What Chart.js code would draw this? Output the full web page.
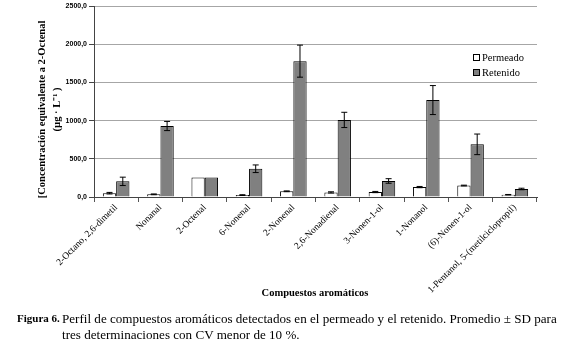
<!DOCTYPE html>
<html><head><meta charset="utf-8">
<script src="https://cdn.jsdelivr.net/npm/chart.js@4.4.1/dist/chart.umd.min.js"></script>
<style>
html,body{margin:0;padding:0;background:#fff;}
#wrap{position:relative;width:562px;height:345px;}
#c{position:absolute;left:0;top:0;}
#xt{position:absolute;left:0;width:562px;top:287px;text-align:center;padding-left:68px;box-sizing:border-box;font:bold 10.5px "Liberation Serif";}
#legend{position:absolute;left:473px;top:50px;font:10.5px "Liberation Serif";line-height:15px;}
#legend span.b{display:inline-block;width:5px;height:5px;border:1px solid #000;margin-right:2px;vertical-align:0px;}
#cap{position:absolute;left:17px;top:311px;width:545px;font:13.1px "Liberation Serif";line-height:15.5px;display:flex;white-space:nowrap;}
#cap b{width:45px;flex:none;font-size:11px;}
</style></head>
<body><div id="wrap">
<canvas id="c" width="562" height="300"></canvas>
<div id="xt">Compuestos aromáticos</div>
<div id="legend"></div>
<div id="cap"><b>Figura 6.</b><div>Perfil de compuestos aromáticos detectados en el permeado y el retenido. Promedio ± SD para<br>tres determinaciones con CV menor de 10 %.</div></div>
</div>
<script>
const categories = ["2-Octano, 2,6-dimetil","Nonanal","2-Octenal","6-Nonenal","2-Nonenal","2,6-Nonadienal","3-Nonen-1-ol","1-Nonanol","(6)-Nonen-1-ol","1-Pentanol, 5-(metilciclopropil)"];
const permeado = [50, 35, 255, 25, 75, 60, 65, 130, 150, 30];
const permeadoSD = [10, 5, 0, 5, 5, 8, 8, 8, 5, 3];
const retenido = [205, 930, 255, 370, 1780, 1010, 210, 1270, 690, 105];
const retenidoSD = [55, 60, 0, 50, 210, 100, 30, 190, 135, 10];
const yTicks = [0, 500, 1000, 1500, 2000, 2500];
const seriesNames = ["Permeado", "Retenido"];

const errorBars = {
  id: 'errorBars',
  afterDatasetsDraw(chart) {
    const ctx = chart.ctx, ys = chart.scales.y;
    chart.data.datasets.forEach((ds, i) => {
      const meta = chart.getDatasetMeta(i);
      meta.data.forEach((bar, j) => {
        const e = ds.sd[j]; if (!e) return;
        const v = ds.data[j];
        const t = ys.getPixelForValue(v + e), b = ys.getPixelForValue(v - e);
        ctx.save(); ctx.strokeStyle = '#000'; ctx.lineWidth = 1;
        ctx.beginPath();
        ctx.moveTo(bar.x, t); ctx.lineTo(bar.x, b);
        ctx.moveTo(bar.x - 3, t); ctx.lineTo(bar.x + 3, t);
        ctx.moveTo(bar.x - 3, b); ctx.lineTo(bar.x + 3, b);
        ctx.stroke(); ctx.restore();
      });
    });
  }
};

const chart = new Chart(document.getElementById('c'), {
  type: 'bar',
  data: {
    labels: categories,
    datasets: [
      { label: seriesNames[0], data: permeado, sd: permeadoSD, backgroundColor: '#ffffff', borderColor: '#000', borderWidth: 1, categoryPercentage: 0.6, barPercentage: 1.0 },
      { label: seriesNames[1], data: retenido, sd: retenidoSD, backgroundColor: '#808080', borderColor: '#000', borderWidth: 1, categoryPercentage: 0.6, barPercentage: 1.0 }
    ]
  },
  options: {
    responsive: false, animation: false,
    layout: { padding: { left: 35, right: 25, top: 5, bottom: 0 } },
    plugins: { legend: { display: false }, tooltip: { enabled: false } },
    scales: {
      x: {
        grid: { display: true, offset: true, drawOnChartArea: false, drawTicks: true, tickLength: 5, color: '#555' },
        border: { color: '#444' },
        ticks: { autoSkip: false, maxRotation: 45, minRotation: 45, color: '#000', font: { family: 'Liberation Serif', size: 9.5 }, padding: 0 },
        afterFit(s) { s.height = 103; }
      },
      y: {
        min: 0, max: 2500,
        afterBuildTicks(s) { s.ticks = yTicks.map(v => ({ value: v })); },
        grid: { color: '#a6a6a6', tickLength: 5, tickColor: '#444' },
        border: { color: '#444' },
        ticks: { color: '#000', font: { family: 'Liberation Sans', size: 7, weight: 'bold' }, padding: 2,
          callback: v => v.toFixed(1).replace('.', ',') },
        title: { display: true, text: ['[Concentración equivalente a 2-Octenal\u2003\u2002', '(µg · L⁻¹ )\u2003\u2002'], color: '#000',
          font: { family: 'Liberation Serif', size: 10.5, weight: 'bold', lineHeight: 1.4 }, padding: 0 },
        afterFit(s) { s.width = 59; }
      }
    }
  },
  plugins: [errorBars]
});

const lg = document.getElementById('legend');
chart.data.datasets.forEach(ds => {
  const d = document.createElement('div');
  d.innerHTML = '<span class="b" style="background:' + ds.backgroundColor + '"></span>' + ds.label;
  lg.appendChild(d);
});
</script>
</body></html>
